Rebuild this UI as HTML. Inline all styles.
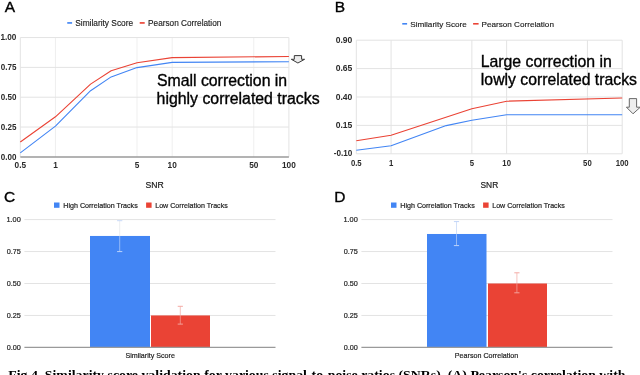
<!DOCTYPE html>
<html><head><meta charset="utf-8"><style>
html,body{margin:0;padding:0;background:#fff;width:640px;height:375px;overflow:hidden}
svg{display:block;will-change:transform}
.ct{font-weight:bold;fill:#2a2a2a}
.cs{stroke:#222;stroke-width:0.2px}
.nn{stroke:#222;stroke-width:0.15px}
.ann{stroke:#000;stroke-width:0.35px;fill:#000}
</style></head><body>
<svg width="640" height="375" viewBox="0 0 640 375">
<line x1="55.44" y1="37.55" x2="55.44" y2="156.90" stroke="#efefef" stroke-width="1" />
<line x1="137.03" y1="37.55" x2="137.03" y2="156.90" stroke="#efefef" stroke-width="1" />
<line x1="172.17" y1="37.55" x2="172.17" y2="156.90" stroke="#efefef" stroke-width="1" />
<line x1="253.76" y1="37.55" x2="253.76" y2="156.90" stroke="#efefef" stroke-width="1" />
<line x1="288.90" y1="37.55" x2="288.90" y2="156.90" stroke="#e3e3e3" stroke-width="1" />
<line x1="20.30" y1="37.55" x2="20.30" y2="156.90" stroke="#e3e3e3" stroke-width="1" />
<line x1="20.30" y1="37.55" x2="288.90" y2="37.55" stroke="#e3e3e3" stroke-width="1" />
<line x1="20.30" y1="67.39" x2="288.90" y2="67.39" stroke="#e3e3e3" stroke-width="1" />
<line x1="20.30" y1="97.22" x2="288.90" y2="97.22" stroke="#e3e3e3" stroke-width="1" />
<line x1="20.30" y1="127.06" x2="288.90" y2="127.06" stroke="#e3e3e3" stroke-width="1" />
<line x1="20.30" y1="156.90" x2="288.90" y2="156.90" stroke="#9a9a9a" stroke-width="1.5" />
<polyline points="20.30,152.90 55.44,126.10 90.58,90.70 111.13,76.90 137.03,67.60 172.17,62.40 288.90,61.70" fill="none" stroke="#4285f4" stroke-width="1.1" stroke-linejoin="round"/>
<polyline points="20.30,142.00 55.44,116.80 90.58,84.10 111.13,70.80 137.03,62.80 172.17,57.60 288.90,56.50" fill="none" stroke="#ea4335" stroke-width="1.1" stroke-linejoin="round"/>
<text class="ct" transform="translate(0.38,40.15) scale(0.8944,1)" font-size="9.2" fill="#222" font-weight="normal" font-family="Liberation Sans">1.00</text>
<text class="ct" transform="translate(0.72,69.99) scale(0.8776,1)" font-size="9.2" fill="#222" font-weight="normal" font-family="Liberation Sans">0.75</text>
<text class="ct" transform="translate(0.72,99.82) scale(0.8753,1)" font-size="9.2" fill="#222" font-weight="normal" font-family="Liberation Sans">0.50</text>
<text class="ct" transform="translate(0.72,129.66) scale(0.8776,1)" font-size="9.2" fill="#222" font-weight="normal" font-family="Liberation Sans">0.25</text>
<text class="ct" transform="translate(0.72,159.50) scale(0.8753,1)" font-size="9.2" fill="#222" font-weight="normal" font-family="Liberation Sans">0.00</text>
<text class="ct" transform="translate(14.54,167.70) scale(0.9200,1)" font-size="9.0" fill="#222" font-family="Liberation Sans">0.5</text>
<text class="ct" transform="translate(53.14,167.70) scale(0.9200,1)" font-size="9.0" fill="#222" font-family="Liberation Sans">1</text>
<text class="ct" transform="translate(134.73,167.70) scale(0.9200,1)" font-size="9.0" fill="#222" font-family="Liberation Sans">5</text>
<text class="ct" transform="translate(167.56,167.70) scale(0.9200,1)" font-size="9.0" fill="#222" font-family="Liberation Sans">10</text>
<text class="ct" transform="translate(249.16,167.70) scale(0.9200,1)" font-size="9.0" fill="#222" font-family="Liberation Sans">50</text>
<text class="ct" transform="translate(281.99,167.70) scale(0.9200,1)" font-size="9.0" fill="#222" font-family="Liberation Sans">100</text>
<text class="cs" transform="translate(145.41,188.40) scale(1.0171,1)" font-size="8.5" fill="#222" font-weight="normal" font-family="Liberation Sans">SNR</text>
<text class="ann" x="4.80" y="11.80" font-size="15.5" fill="#222" font-weight="normal" font-family="Liberation Sans">A</text>
<rect x="67.25" y="22.10" width="4.85" height="1.65" fill="#4285f4"/>
<text class="nn" transform="translate(75.22,25.90) scale(1.0064,1)" font-size="8.3" fill="#222" font-weight="normal" font-family="Liberation Sans">Similarity Score</text>
<rect x="139.70" y="22.10" width="5.00" height="1.65" fill="#ea4335"/>
<text class="nn" transform="translate(148.09,25.90) scale(0.9932,1)" font-size="8.3" fill="#222" font-weight="normal" font-family="Liberation Sans">Pearson Correlation</text>
<text class="ann" transform="translate(156.89,85.70) scale(1.0033,1)" font-size="15.8" fill="#222" font-weight="normal" font-family="Liberation Sans">Small correction in</text>
<text class="ann" transform="translate(156.57,103.70) scale(1.0039,1)" font-size="15.8" fill="#222" font-weight="normal" font-family="Liberation Sans">highly correlated tracks</text>
<path d="M294.3,55.6 L301.6,55.6 L301.6,59.3 L304.6,59.3 L297.9,63.0 L291.3,59.3 L294.3,59.3 Z" fill="#ececec" stroke="#383838" stroke-width="1" stroke-linejoin="miter"/>
<line x1="391.09" y1="40.20" x2="391.09" y2="153.80" stroke="#e3e3e3" stroke-width="1" />
<line x1="471.86" y1="40.20" x2="471.86" y2="153.80" stroke="#e3e3e3" stroke-width="1" />
<line x1="506.64" y1="40.20" x2="506.64" y2="153.80" stroke="#e3e3e3" stroke-width="1" />
<line x1="587.41" y1="40.20" x2="587.41" y2="153.80" stroke="#e3e3e3" stroke-width="1" />
<line x1="622.20" y1="40.20" x2="622.20" y2="153.80" stroke="#e3e3e3" stroke-width="1" />
<line x1="356.30" y1="40.20" x2="356.30" y2="153.80" stroke="#e3e3e3" stroke-width="1" />
<line x1="356.30" y1="40.20" x2="622.20" y2="40.20" stroke="#e3e3e3" stroke-width="1" />
<line x1="356.30" y1="68.60" x2="622.20" y2="68.60" stroke="#e3e3e3" stroke-width="1" />
<line x1="356.30" y1="97.00" x2="622.20" y2="97.00" stroke="#e3e3e3" stroke-width="1" />
<line x1="356.30" y1="125.40" x2="622.20" y2="125.40" stroke="#e3e3e3" stroke-width="1" />
<line x1="356.30" y1="153.80" x2="622.20" y2="153.80" stroke="#e3e3e3" stroke-width="1" />
<polyline points="356.30,150.20 391.09,145.80 446.22,125.60 471.86,120.20 506.64,114.70 622.20,114.80" fill="none" stroke="#4285f4" stroke-width="1.1" stroke-linejoin="round"/>
<polyline points="356.30,140.80 391.09,135.20 471.86,108.80 506.64,101.20 622.20,98.00" fill="none" stroke="#ea4335" stroke-width="1.1" stroke-linejoin="round"/>
<text class="ct" transform="translate(335.70,42.80) scale(0.9275,1)" font-size="9.2" fill="#222" font-weight="normal" font-family="Liberation Sans">0.90</text>
<text class="ct" transform="translate(335.70,71.20) scale(0.9299,1)" font-size="9.2" fill="#222" font-weight="normal" font-family="Liberation Sans">0.65</text>
<text class="ct" transform="translate(335.70,99.60) scale(0.9275,1)" font-size="9.2" fill="#222" font-weight="normal" font-family="Liberation Sans">0.40</text>
<text class="ct" transform="translate(335.70,128.00) scale(0.9299,1)" font-size="9.2" fill="#222" font-weight="normal" font-family="Liberation Sans">0.15</text>
<text class="ct" transform="translate(333.67,156.40) scale(0.8881,1)" font-size="9.2" fill="#222" font-weight="normal" font-family="Liberation Sans">-0.10</text>
<text class="ct" transform="translate(350.92,165.50) scale(0.9000,1)" font-size="8.6" fill="#222" font-family="Liberation Sans">0.5</text>
<text class="ct" transform="translate(388.93,165.50) scale(0.9000,1)" font-size="8.6" fill="#222" font-family="Liberation Sans">1</text>
<text class="ct" transform="translate(469.70,165.50) scale(0.9000,1)" font-size="8.6" fill="#222" font-family="Liberation Sans">5</text>
<text class="ct" transform="translate(502.34,165.50) scale(0.9000,1)" font-size="8.6" fill="#222" font-family="Liberation Sans">10</text>
<text class="ct" transform="translate(583.11,165.50) scale(0.9000,1)" font-size="8.6" fill="#222" font-family="Liberation Sans">50</text>
<text class="ct" transform="translate(615.74,165.50) scale(0.9000,1)" font-size="8.6" fill="#222" font-family="Liberation Sans">100</text>
<text class="cs" transform="translate(480.52,188.40) scale(0.9881,1)" font-size="8.5" fill="#222" font-weight="normal" font-family="Liberation Sans">SNR</text>
<text class="ann" x="334.76" y="11.80" font-size="15.5" fill="#222" font-weight="normal" font-family="Liberation Sans">B</text>
<rect x="402.25" y="23.00" width="4.85" height="1.60" fill="#4285f4"/>
<text class="nn" transform="translate(410.23,27.10) scale(1.0061,1)" font-size="8.1" fill="#222" font-weight="normal" font-family="Liberation Sans">Similarity Score</text>
<rect x="473.10" y="23.00" width="5.50" height="1.60" fill="#ea4335"/>
<text class="nn" transform="translate(481.55,27.10) scale(1.0071,1)" font-size="8.1" fill="#222" font-weight="normal" font-family="Liberation Sans">Pearson Correlation</text>
<text class="ann" transform="translate(480.63,66.60) scale(1.0037,1)" font-size="15.8" fill="#222" font-weight="normal" font-family="Liberation Sans">Large correction in</text>
<text class="ann" transform="translate(480.87,85.25) scale(0.9993,1)" font-size="15.8" fill="#222" font-weight="normal" font-family="Liberation Sans">lowly correlated tracks</text>
<path d="M629.3,98.6 L636.6,98.6 L636.6,107.2 L640.3,107.2 L633,113.8 L626.4,107.2 L629.3,107.2 Z" fill="#eeeeee" stroke="#5a5a5a" stroke-width="0.9" stroke-linejoin="miter"/>
<line x1="24.40" y1="219.60" x2="275.50" y2="219.60" stroke="#e3e3e3" stroke-width="1" />
<line x1="24.40" y1="251.55" x2="275.50" y2="251.55" stroke="#e3e3e3" stroke-width="1" />
<line x1="24.40" y1="283.50" x2="275.50" y2="283.50" stroke="#e3e3e3" stroke-width="1" />
<line x1="24.40" y1="315.45" x2="275.50" y2="315.45" stroke="#e3e3e3" stroke-width="1" />
<text class="cs" transform="translate(6.44,222.20) scale(0.9751,1)" font-size="7.6" fill="#222" font-weight="normal" font-family="Liberation Sans">1.00</text>
<text class="cs" transform="translate(6.75,254.15) scale(0.9569,1)" font-size="7.6" fill="#222" font-weight="normal" font-family="Liberation Sans">0.75</text>
<text class="cs" transform="translate(6.75,286.10) scale(0.9543,1)" font-size="7.6" fill="#222" font-weight="normal" font-family="Liberation Sans">0.50</text>
<text class="cs" transform="translate(6.75,318.05) scale(0.9569,1)" font-size="7.6" fill="#222" font-weight="normal" font-family="Liberation Sans">0.25</text>
<text class="cs" transform="translate(6.75,350.00) scale(0.9543,1)" font-size="7.6" fill="#222" font-weight="normal" font-family="Liberation Sans">0.00</text>
<rect x="90.00" y="235.96" width="60.00" height="111.44" fill="#4285f4"/>
<rect x="151.00" y="315.45" width="59.00" height="31.95" fill="#ea4335"/>
<line x1="24.40" y1="347.40" x2="275.50" y2="347.40" stroke="#9a9a9a" stroke-width="1.2" />
<text class="ann" x="3.93" y="201.80" font-size="15.5" fill="#222" font-weight="normal" font-family="Liberation Sans">C</text>
<rect x="54.00" y="202.50" width="5.50" height="5.30" fill="#4285f4"/>
<text class="cs" transform="translate(63.23,207.90) scale(0.9406,1)" font-size="7.6" fill="#222" font-weight="normal" font-family="Liberation Sans">High Correlation Tracks</text>
<rect x="146.10" y="202.50" width="5.50" height="5.30" fill="#ea4335"/>
<text class="cs" transform="translate(155.23,207.90) scale(0.9340,1)" font-size="7.6" fill="#222" font-weight="normal" font-family="Liberation Sans">Low Correlation Tracks</text>
<text class="cs" transform="translate(125.38,358.40) scale(0.9158,1)" font-size="7.8" fill="#222" font-weight="normal" font-family="Liberation Sans">Similarity Score</text>
<line x1="119.70" y1="220.70" x2="119.70" y2="236.10" stroke="#e6e8ec" stroke-width="0.8" />
<line x1="119.70" y1="236.10" x2="119.70" y2="251.60" stroke="#a8c5f8" stroke-width="0.8" />
<line x1="117.10" y1="220.70" x2="122.30" y2="220.70" stroke="#c8d9f8" stroke-width="1" />
<line x1="117.10" y1="251.60" x2="122.30" y2="251.60" stroke="#bcd3fa" stroke-width="1" />
<line x1="180.30" y1="306.30" x2="180.30" y2="315.40" stroke="#f4b4ae" stroke-width="0.8" />
<line x1="180.30" y1="315.40" x2="180.30" y2="324.10" stroke="#f29a93" stroke-width="0.8" />
<line x1="177.70" y1="306.30" x2="182.90" y2="306.30" stroke="#f4aaa4" stroke-width="1" />
<line x1="177.70" y1="324.10" x2="182.90" y2="324.10" stroke="#f3a29b" stroke-width="1" />
<line x1="361.40" y1="219.60" x2="612.50" y2="219.60" stroke="#e3e3e3" stroke-width="1" />
<line x1="361.40" y1="251.55" x2="612.50" y2="251.55" stroke="#e3e3e3" stroke-width="1" />
<line x1="361.40" y1="283.50" x2="612.50" y2="283.50" stroke="#e3e3e3" stroke-width="1" />
<line x1="361.40" y1="315.45" x2="612.50" y2="315.45" stroke="#e3e3e3" stroke-width="1" />
<text class="cs" transform="translate(343.44,222.20) scale(0.9751,1)" font-size="7.6" fill="#222" font-weight="normal" font-family="Liberation Sans">1.00</text>
<text class="cs" transform="translate(343.75,254.15) scale(0.9569,1)" font-size="7.6" fill="#222" font-weight="normal" font-family="Liberation Sans">0.75</text>
<text class="cs" transform="translate(343.75,286.10) scale(0.9543,1)" font-size="7.6" fill="#222" font-weight="normal" font-family="Liberation Sans">0.50</text>
<text class="cs" transform="translate(343.75,318.05) scale(0.9569,1)" font-size="7.6" fill="#222" font-weight="normal" font-family="Liberation Sans">0.25</text>
<text class="cs" transform="translate(343.75,350.00) scale(0.9543,1)" font-size="7.6" fill="#222" font-weight="normal" font-family="Liberation Sans">0.00</text>
<rect x="427.00" y="233.98" width="59.50" height="113.42" fill="#4285f4"/>
<rect x="488.00" y="283.50" width="59.00" height="63.90" fill="#ea4335"/>
<line x1="361.40" y1="347.40" x2="612.50" y2="347.40" stroke="#9a9a9a" stroke-width="1.2" />
<text class="ann" x="334.36" y="201.80" font-size="15.5" fill="#222" font-weight="normal" font-family="Liberation Sans">D</text>
<rect x="391.00" y="202.50" width="5.50" height="5.30" fill="#4285f4"/>
<text class="cs" transform="translate(400.23,207.90) scale(0.9406,1)" font-size="7.6" fill="#222" font-weight="normal" font-family="Liberation Sans">High Correlation Tracks</text>
<rect x="483.10" y="202.50" width="5.50" height="5.30" fill="#ea4335"/>
<text class="cs" transform="translate(492.23,207.90) scale(0.9340,1)" font-size="7.6" fill="#222" font-weight="normal" font-family="Liberation Sans">Low Correlation Tracks</text>
<text class="cs" transform="translate(454.83,358.40) scale(0.9155,1)" font-size="7.8" fill="#222" font-weight="normal" font-family="Liberation Sans">Pearson Correlation</text>
<line x1="456.50" y1="221.60" x2="456.50" y2="234.10" stroke="#c8d9f8" stroke-width="0.8" />
<line x1="456.50" y1="234.10" x2="456.50" y2="245.60" stroke="#a8c5f8" stroke-width="0.8" />
<line x1="453.90" y1="221.60" x2="459.10" y2="221.60" stroke="#c0d4f8" stroke-width="1" />
<line x1="453.90" y1="245.60" x2="459.10" y2="245.60" stroke="#bcd3fa" stroke-width="1" />
<line x1="516.90" y1="272.80" x2="516.90" y2="283.30" stroke="#f4b4ae" stroke-width="0.8" />
<line x1="516.90" y1="283.30" x2="516.90" y2="292.80" stroke="#f29a93" stroke-width="0.8" />
<line x1="514.30" y1="272.80" x2="519.50" y2="272.80" stroke="#f4aaa4" stroke-width="1" />
<line x1="514.30" y1="292.80" x2="519.50" y2="292.80" stroke="#f3a29b" stroke-width="1" />
<text class="cap" transform="translate(8.29,378.50) scale(1.0661,1)" font-size="13" fill="#000" font-weight="bold" font-family="Liberation Serif">Fig 4. Similarity score validation for various signal-to-noise ratios (SNRs). (A) Pearson&#39;s correlation with</text>
</svg></body></html>
